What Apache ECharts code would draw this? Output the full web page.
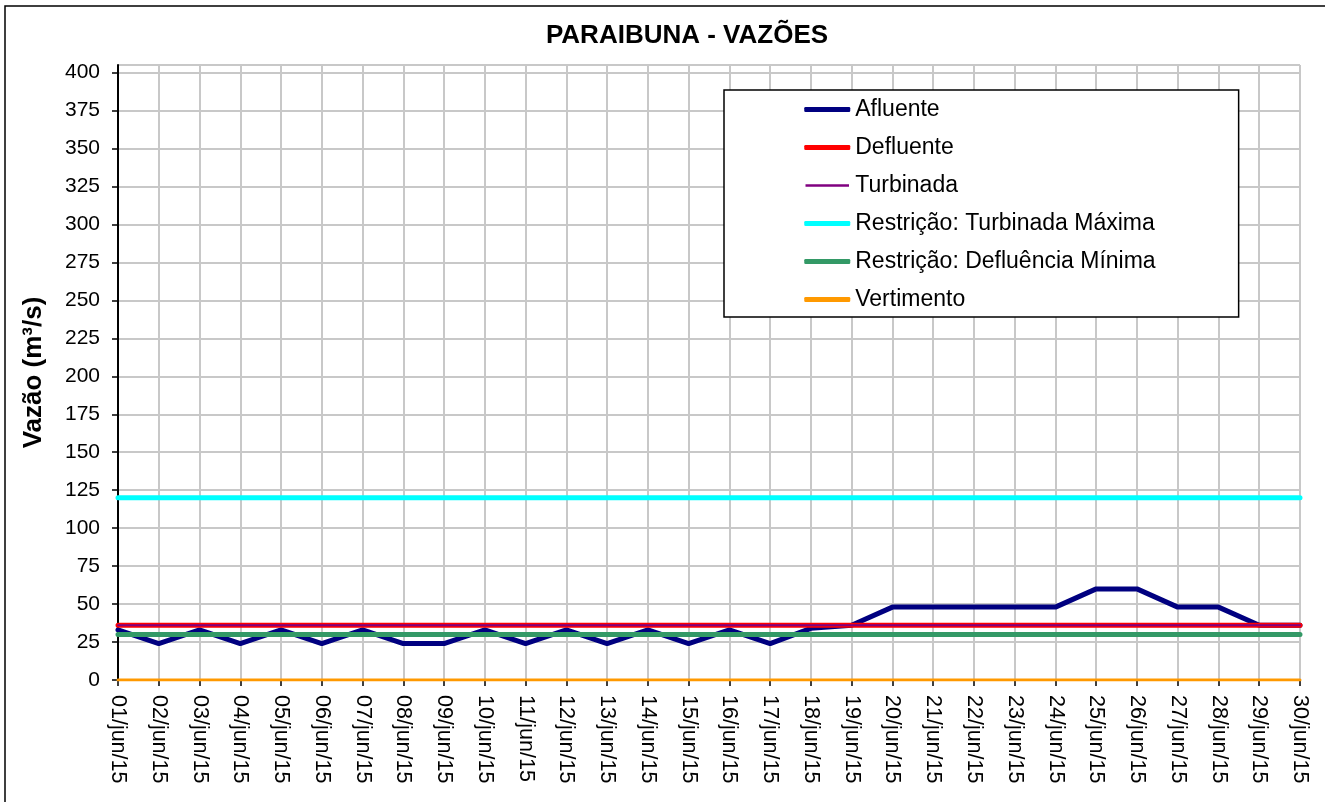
<!DOCTYPE html>
<html>
<head>
<meta charset="utf-8">
<script src="https://cdn.jsdelivr.net/npm/echarts@6/dist/echarts.min.js"></script>
<style>
  html, body { margin: 0; background: #fff; }
  #chart { width: 1325px; height: 802px; }
</style>
</head>
<body>
<div id="chart"></div>
<script>
// dias do mês
const days = [
  "01/jun/15", "02/jun/15", "03/jun/15", "04/jun/15", "05/jun/15", "06/jun/15",
  "07/jun/15", "08/jun/15", "09/jun/15", "10/jun/15", "11/jun/15", "12/jun/15",
  "13/jun/15", "14/jun/15", "15/jun/15", "16/jun/15", "17/jun/15", "18/jun/15",
  "19/jun/15", "20/jun/15", "21/jun/15", "22/jun/15", "23/jun/15", "24/jun/15",
  "25/jun/15", "26/jun/15", "27/jun/15", "28/jun/15", "29/jun/15", "30/jun/15"
];
const afluente = [33, 24, 33, 24, 33, 24, 33, 24, 24, 33, 24, 33, 24, 33, 24,
  33, 24, 34, 36, 48, 48, 48, 48, 48, 60, 60, 48, 48, 36, 36];
const defluente = [36, 36, 36, 36, 36, 36, 36, 36, 36, 36, 36, 36, 36, 36, 36,
  36, 36, 36, 36, 36, 36, 36, 36, 36, 36, 36, 36, 36, 36, 36];
const turbinada = [36, 36, 36, 36, 36, 36, 36, 36, 36, 36, 36, 36, 36, 36, 36,
  36, 36, 36, 36, 36, 36, 36, 36, 36, 36, 36, 36, 36, 36, 36];
const turbMaxima = [120, 120, 120, 120, 120, 120, 120, 120, 120, 120, 120, 120, 120, 120, 120,
  120, 120, 120, 120, 120, 120, 120, 120, 120, 120, 120, 120, 120, 120, 120];
const deflMinima = [30, 30, 30, 30, 30, 30, 30, 30, 30, 30, 30, 30, 30, 30, 30,
  30, 30, 30, 30, 30, 30, 30, 30, 30, 30, 30, 30, 30, 30, 30];
const vertimento = [0, 0, 0, 0, 0, 0, 0, 0, 0, 0, 0, 0, 0, 0, 0,
  0, 0, 0, 0, 0, 0, 0, 0, 0, 0, 0, 0, 0, 0, 0];

const font = "Liberation Sans, Arial, sans-serif";

function line(name, data, color, width) {
  return {
    name: name,
    type: "line",
    data: data,
    symbol: "none",
    animation: false,
    lineStyle: { color: color, width: width, cap: "round" },
    itemStyle: { color: color },
  };
}

const chart = echarts.init(document.getElementById("chart"));
chart.setOption({
  animation: false,
  textStyle: { fontFamily: font },
  title: {
    text: "PARAIBUNA - VAZÕES",
    left: 682,
    top: 18,
    textAlign: "center",
    textStyle: { fontFamily: font, fontSize: 26, fontWeight: "bold", color: "#000" },
  },
  graphic: [
    {
      // moldura do gráfico (lados direito e inferior ficam fora do recorte)
      type: "rect",
      shape: { x: 5, y: 6, width: 1340, height: 820 },
      style: { fill: null, stroke: "#000", lineWidth: 1.5 },
      silent: true,
    },
  ],
  legend: {
    orient: "vertical",
    left: 724,
    top: 90,
    icon: "roundRect",
    itemWidth: 46,
    itemHeight: 5,
    itemGap: 15,
    padding: [8, 83, 6, 79],
    backgroundColor: "#fff",
    borderColor: "#000",
    borderWidth: 1.5,
    borderRadius: 0,
    textStyle: { fontFamily: font, fontSize: 23, color: "#000" },
    data: [
      { name: "Afluente" },
      { name: "Defluente" },
      { name: "Turbinada", itemStyle: { borderColor: "#fff", borderWidth: 2.5 } },
      { name: "Restrição: Turbinada Máxima" },
      { name: "Restrição: Defluência Mínima" },
      { name: "Vertimento" },
    ],
  },
  grid: { left: 118, right: 25, top: 65, bottom: 122 },
  xAxis: {
    type: "category",
    data: days,
    boundaryGap: false,
    axisLine: { lineStyle: { color: "#000", width: 2 } },
    axisTick: { show: true, length: 6, inside: false, lineStyle: { color: "#000", width: 1.5 }, interval: 0 },
    axisLabel: { rotate: -90, interval: 0, fontSize: 21.5, color: "#000", fontFamily: font, margin: 15 },
    splitLine: { show: true, interval: 0, lineStyle: { color: "#c8c8c8", width: 2 } },
  },
  yAxis: {
    type: "value",
    min: 0,
    max: 405,
    interval: 25,
    name: "Vazão (m³/s)",
    nameLocation: "middle",
    nameGap: 71,
    nameTextStyle: { fontFamily: font, fontSize: 26, fontWeight: "bold", color: "#000" },
    axisLine: { show: true, lineStyle: { color: "#000", width: 2 } },
    axisTick: { show: true, length: 6, lineStyle: { color: "#000", width: 1.5 } },
    axisLabel: { fontSize: 21, color: "#000", fontFamily: font, margin: 18, showMaxLabel: false },
    splitLine: { show: true, lineStyle: { color: "#c8c8c8", width: 2 } },
  },
  series: [
    line("Afluente", afluente, "#000080", 5),
    line("Defluente", defluente, "#ff0000", 5),
    line("Turbinada", turbinada, "#800080", 2),
    line("Restrição: Turbinada Máxima", turbMaxima, "#00ffff", 5),
    line("Restrição: Defluência Mínima", deflMinima, "#339966", 5),
    line("Vertimento", vertimento, "#ff9900", 3),
  ],
});
</script>
</body>
</html>
